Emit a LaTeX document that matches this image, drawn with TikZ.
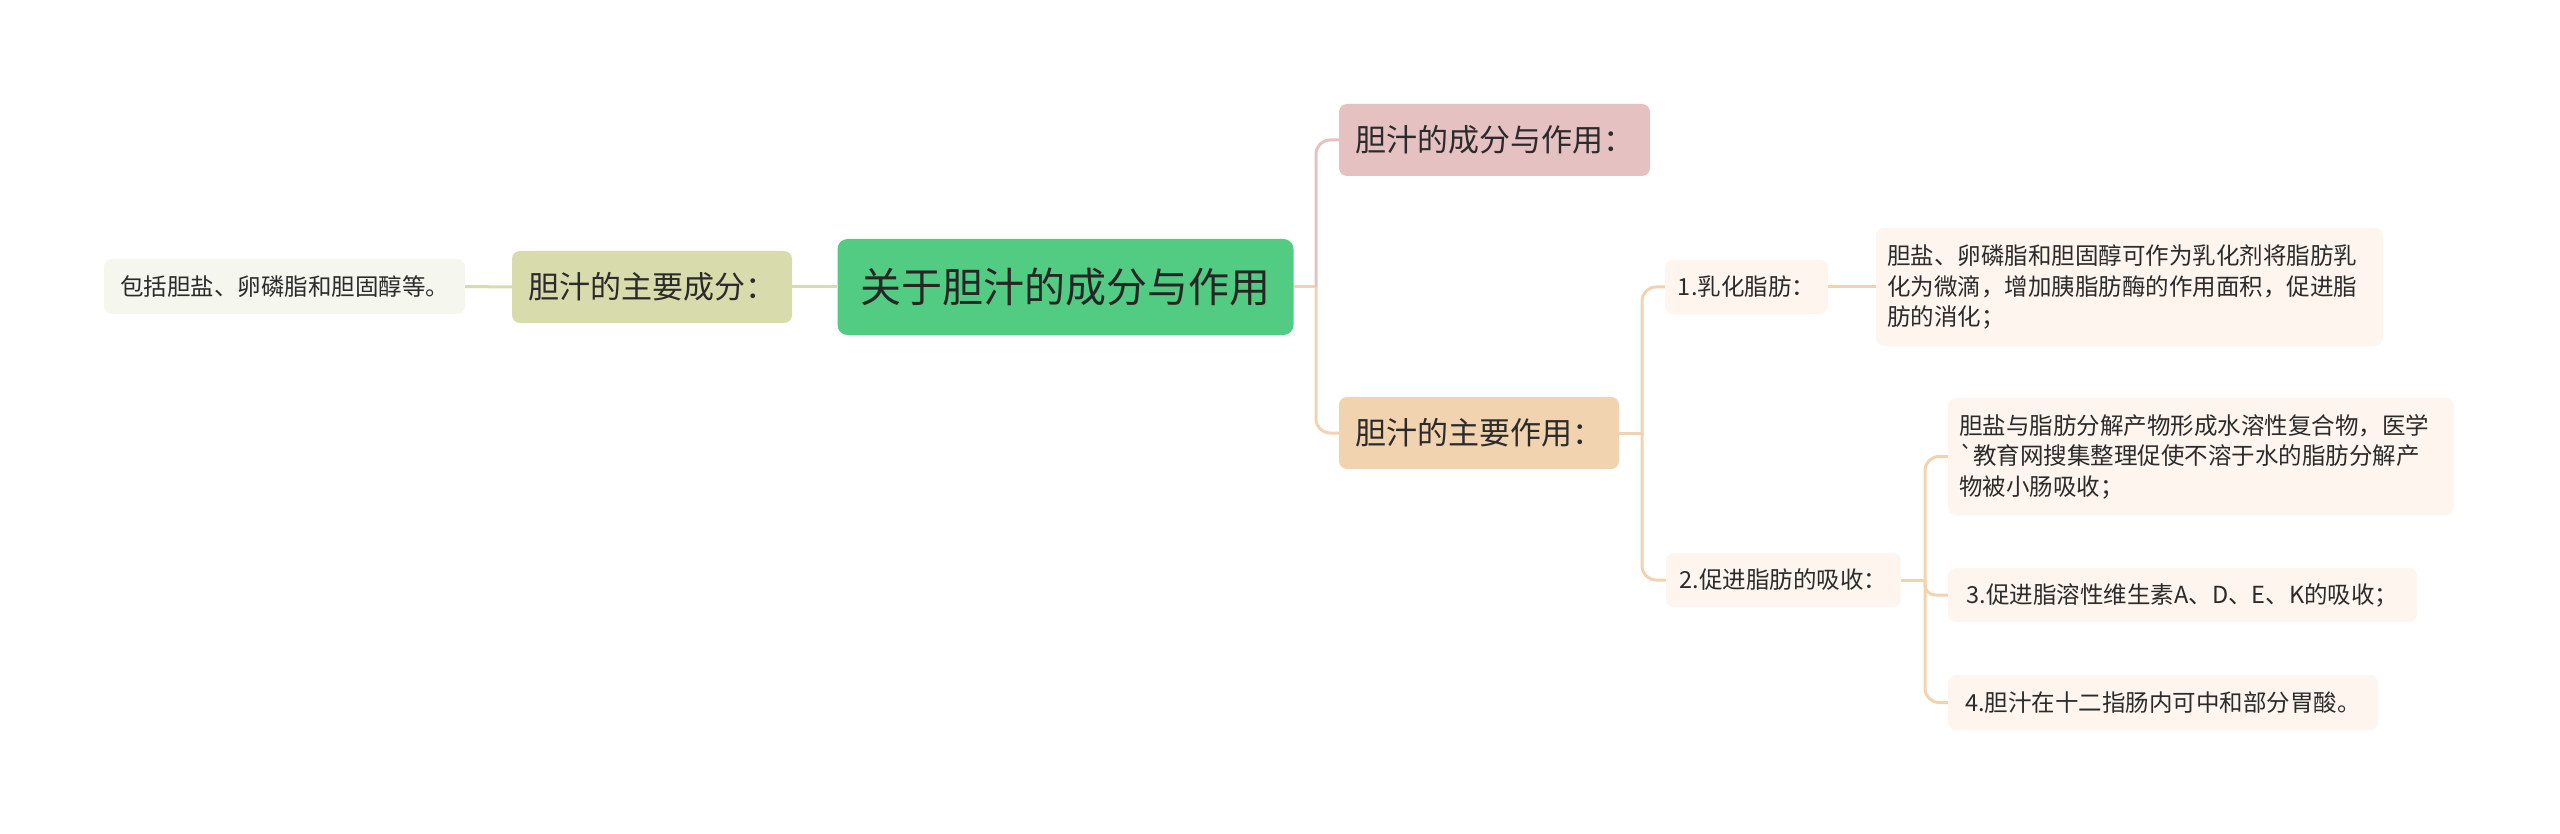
\documentclass[tikz,border=0pt]{standalone}
\usepackage{fontspec}
\setmainfont{Noto Sans CJK SC}
\definecolor{maingreen}{HTML}{52CB83}
\definecolor{olivec}{HTML}{D8DBAC}
\definecolor{oliveleaf}{HTML}{F5F6EE}
\definecolor{pinkc}{HTML}{E6C1C1}
\definecolor{peachc}{HTML}{F2D3AF}
\definecolor{creamc}{HTML}{FDF5EE}
\definecolor{txtc}{HTML}{2B2B2B}
\tikzset{
  box/.style={rounded corners=8pt, inner sep=0pt, text=txtc, align=center},
  fmain/.style={font=\fontsize{41}{48}\selectfont},
  fmid/.style={font=\fontsize{31}{37}\selectfont},
  fsmall/.style={font=\fontsize{23.5}{30.5}\selectfont},
  link/.style={line width=3pt},
}
\begin{document}
\begin{tikzpicture}[x=1pt,y=-1pt]
\useasboundingbox (0,0) rectangle (2560,834);
% nodes
\node[box, fmain, fill=maingreen, rounded corners=10pt, minimum width=456pt, minimum height=96pt, text=black!85] (main) at (1065.5,287) {关于胆汁的成分与作用};
\node[box, fmid, fill=olivec, minimum width=280pt, minimum height=72pt] (left) at (652,287) {胆汁的主要成分：};
\node[box, fsmall, fill=oliveleaf, minimum width=361pt, minimum height=55pt] (lleaf) at (284.5,286.5) {包括胆盐、卵磷脂和胆固醇等。};
\node[box, fmid, fill=pinkc, minimum width=311pt, minimum height=72pt] (top) at (1494.5,140) {胆汁的成分与作用：};
\node[box, fmid, fill=peachc, minimum width=280pt, minimum height=72pt] (bot) at (1479,433) {胆汁的主要作用：};
\node[box, fsmall, fill=creamc, minimum width=163pt, minimum height=54pt] (n1) at (1746.5,287) {1.乳化脂肪：};
\node[box, fsmall, fill=creamc, minimum width=507pt, minimum height=118pt, text width=485pt, align=left] (la) at (2129.5,287) {胆盐、卵磷脂和胆固醇可作为乳化剂将脂肪乳\\化为微滴，增加胰脂肪酶的作用面积，促进脂\\肪的消化；};
\node[box, fsmall, fill=creamc, minimum width=235pt, minimum height=54pt] (n2) at (1783.5,580) {2.促进脂肪的吸收：};
\node[box, fsmall, fill=creamc, minimum width=506pt, minimum height=117pt, text width=484pt, align=left] (lb) at (2201,456.5) {胆盐与脂肪分解产物形成水溶性复合物，医学\\\textasciigrave 教育网搜集整理促使不溶于水的脂肪分解产\\物被小肠吸收；};
\node[box, fsmall, fill=creamc, minimum width=469pt, minimum height=54pt] (lc) at (2182.5,595) {3.促进脂溶性维生素A、D、E、K的吸收；};
\node[box, fsmall, fill=creamc, minimum width=430pt, minimum height=55pt] (ld) at (2163,702.5) {4.胆汁在十二指肠内可中和部分胃酸。};
% junctions
\coordinate (j1) at (1316,287);
\coordinate (j2) at (1642,433);
\coordinate (j3) at (1925,580);
% connectors
\draw[link, olivec] (main.west) -- (left.east);
\draw[link, olivec] (left.west) -- (lleaf.east);
\draw[link, peachc] (main.east) -- (j1);
\draw[link, pinkc, rounded corners=14pt] (j1) |- (top.west);
\draw[link, peachc, rounded corners=14pt] (j1) |- (bot.west);
\draw[link, peachc] (bot.east) -- (j2);
\draw[link, peachc, rounded corners=14pt] (j2) |- (n1.west);
\draw[link, peachc, rounded corners=14pt] (j2) |- (n2.west);
\draw[link, peachc] (n1.east) -- (la.west);
\draw[link, peachc] (n2.east) -- (j3);
\draw[link, peachc, rounded corners=14pt] (j3) |- (lb.west);
\draw[link, peachc, rounded corners=10pt] (j3) |- (lc.west);
\draw[link, peachc, rounded corners=14pt] (j3) |- (ld.west);
\end{tikzpicture}
\end{document}
